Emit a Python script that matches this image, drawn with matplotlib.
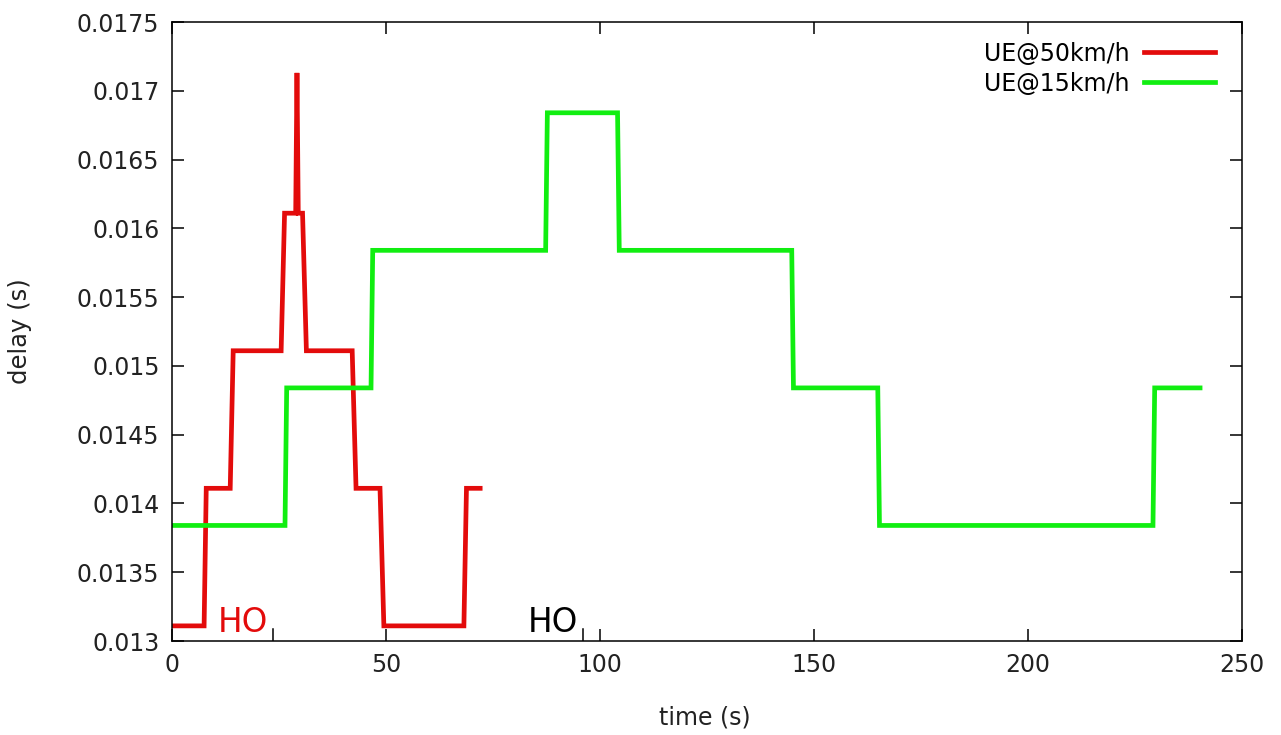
import matplotlib
matplotlib.use("Agg")
import matplotlib.pyplot as plt

# Delay traces (time in s, delay in s)
t_50 = [0, 7.5, 8, 13.6, 14.3, 25.5, 26.3, 28.9, 29.2, 29.5, 30.5, 31.4, 42.1, 43.0, 48.6, 49.5, 68.2, 68.8, 72.0]
d_50 = [0.01311, 0.01311, 0.01411, 0.01411, 0.01511, 0.01511, 0.01611, 0.01611, 0.01713, 0.01611,
        0.01611, 0.01511, 0.01511, 0.01411, 0.01411, 0.01311, 0.01311, 0.01411, 0.01411]

t_15 = [0, 26.4, 26.8, 46.5, 46.9, 87.3, 87.7, 104.1, 104.5, 144.8, 145.2, 164.9, 165.3, 229.2, 229.6, 240.2]
d_15 = [0.01384, 0.01384, 0.01484, 0.01484, 0.01584, 0.01584, 0.01684, 0.01684, 0.01584, 0.01584,
        0.01484, 0.01484, 0.01384, 0.01384, 0.01484, 0.01484]

# Handover annotations
ho_labels = ["HO", "HO"]
ho_x = [16.6, 89.0]
ho_y = [0.013065, 0.013065]
ho_colors = ["#e30b0b", "black"]
ho_marks = [23.6, 96.0]

x_ticks = [0, 50, 100, 150, 200, 250]
y_ticks = [0.013, 0.0135, 0.014, 0.0145, 0.015, 0.0155, 0.016, 0.0165, 0.017, 0.0175]
y_tick_labels = ["0.013", "0.0135", "0.014", "0.0145", "0.015", "0.0155", "0.016", "0.0165", "0.017", "0.0175"]

red = "#e30b0b"
green = "#11ee11"
text_color = "#222222"

fig = plt.figure(figsize=(12.81, 7.35), dpi=100)
ax = fig.add_axes([172 / 1281, 1 - 641 / 735, (1242 - 172) / 1281, (641 - 22) / 735])

ax.plot(t_50, d_50, color=red, lw=3.4, label="UE@50km/h", solid_joinstyle="miter")
ax.plot(t_15, d_15, color=green, lw=3.4, label="UE@15km/h", solid_joinstyle="miter")

for lab, x, y, c in zip(ho_labels, ho_x, ho_y, ho_colors):
    ax.text(x, y, lab, color=c, fontsize=23.5, ha="center", va="baseline")

for x in ho_marks:
    ax.plot([x, x], [0.013, 0.013 + 0.000085], color="black", lw=1.1)

ax.set_xlim(0, 250)
ax.set_ylim(0.013, 0.0175)
ax.set_xticks(x_ticks)
ax.set_xticklabels([str(v) for v in x_ticks])
ax.set_yticks(y_ticks)
ax.set_yticklabels(y_tick_labels)

ax.tick_params(direction="in", length=8.5, width=1.1, top=True, right=True,
               labelsize=17, pad=9, colors="black", labelcolor=text_color)
for s in ax.spines.values():
    s.set_linewidth(1.1)

ax.set_xlabel("time (s)", fontsize=17, color=text_color)
ax.set_ylabel("delay (s)", fontsize=17.5, color=text_color)
ax.xaxis.set_label_coords((705 - 172) / 1070, (641 - 706) / 619)
ax.yaxis.set_label_coords((32 - 172) / 1070, 0.5)

ax.legend(loc="upper right", frameon=False, markerfirst=False, fontsize=17,
          handlelength=3.0, handletextpad=0.6, labelspacing=0.25,
          borderaxespad=0.3, bbox_to_anchor=(0.99, 0.995))

fig.savefig("out.png", dpi=100)
